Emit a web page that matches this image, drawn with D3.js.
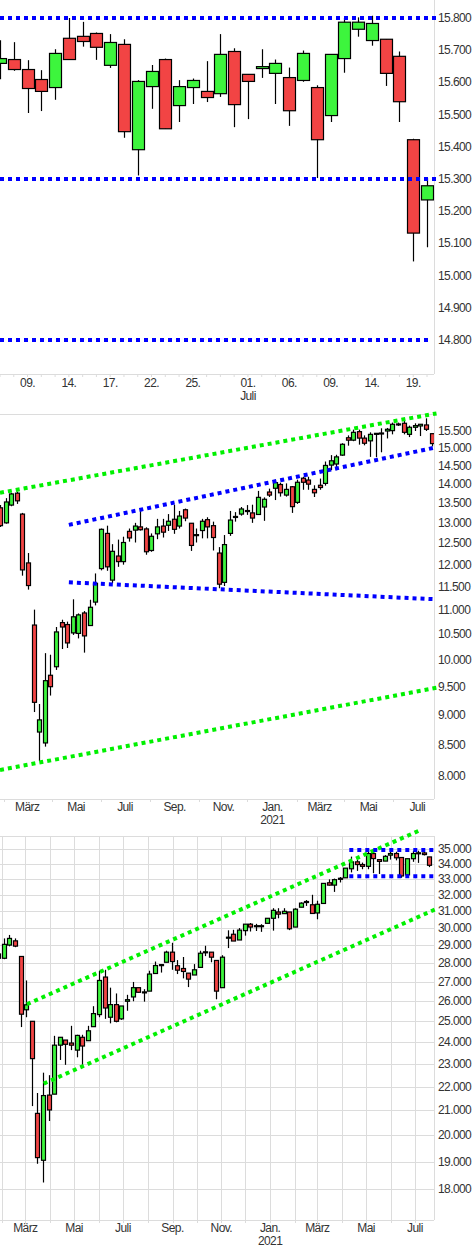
<!DOCTYPE html>
<html>
<head>
<meta charset="utf-8">
<script src="https://cdn.jsdelivr.net/npm/d3@7"></script>
<style>
  body { margin: 0; background: #fff; }
  text { font-family: "Liberation Sans", Arial, sans-serif; font-size: 12px; letter-spacing: -0.6px; fill: #333; }
</style>
</head>
<body>
<svg id="chart" width="475" height="1250"></svg>
<script>
/*
  Three candle panels: daily (last weeks), weekly DAX, weekly Dow.
  values are [open, high, low, close]
*/

// panel 1 - daily
var days1 = ["2021-06-07","2021-06-08","2021-06-09","2021-06-10","2021-06-11","2021-06-14","2021-06-15","2021-06-16",
  "2021-06-17","2021-06-18","2021-06-21","2021-06-22","2021-06-23","2021-06-24","2021-06-25","2021-06-28","2021-06-29",
  "2021-06-30","2021-07-01","2021-07-02","2021-07-05","2021-07-06","2021-07-07","2021-07-08","2021-07-09","2021-07-12",
  "2021-07-13","2021-07-14","2021-07-15","2021-07-16","2021-07-19","2021-07-20"];
var ohlc1 = [
  [15659,15731,15610,15674],[15671,15725,15636,15640],[15640,15669,15505,15581],[15609,15638,15511,15572],
  [15584,15703,15546,15690],[15737,15800,15671,15671],[15743,15788,15711,15727],[15752,15755,15670,15709],
  [15653,15750,15645,15724],[15718,15734,15428,15447],[15391,15607,15311,15603],[15587,15654,15518,15634],
  [15671,15674,15456,15456],[15528,15607,15477,15587],[15584,15612,15533,15606],[15572,15666,15539,15553],
  [15565,15750,15555,15687],[15696,15706,15461,15531],[15625,15625,15486,15603],[15643,15703,15614,15649],
  [15628,15671,15533,15659],[15615,15646,15465,15512],[15606,15699,15602,15690],[15584,15591,15303,15422],
  [15497,15687,15477,15687],[15674,15800,15630,15787],[15765,15802,15742,15787],[15730,15807,15714,15783],
  [15734,15734,15589,15628],[15681,15696,15477,15540],[15422,15425,15044,15132],[15235,15303,15088,15279]
];
var ticks1 = [14800,14900,15000,15100,15200,15300,15400,15500,15600,15700,15800];
var dayLabels1 = ["2021-06-09","2021-06-14","2021-06-17","2021-06-22","2021-06-25","2021-07-01","2021-07-06","2021-07-09","2021-07-14","2021-07-19"];
var levels1 = [15800, 15300, 14800];

// panel 2 - weekly (first week monday / last week monday)
var weeks2 = ["2020-01-27", "2021-07-19"];
var ohlc2 = [
  [13380,13450,12900,12930],[13000,13630,12980,13530],[13450,13770,13420,13740],[13760,13800,13480,13560],
  [13220,13250,11750,11880],[12040,12270,11440,11530],[10690,11010,9050,9220],[8710,9190,8240,8915],
  [8530,10130,8470,9610],[9710,10100,9340,9500],[9870,10650,9810,10550],[10740,10800,10210,10650],
  [10700,10760,10230,10330],[10530,11230,10490,10860],[10520,10930,10420,10900],[10940,10980,10140,10470],
  [10680,11220,10680,11060],[11170,11800,11100,11580],[11910,12860,11870,12840],[12740,12930,11860,11950],
  [11650,12480,11580,12310],[12200,12590,11950,12070],[12070,12660,12000,12520],[12790,12860,12540,12630],
  [12820,13000,12520,12920],[12900,13320,12810,12830],[12850,12890,12230,12300],[12330,12740,12300,12670],
  [12730,13100,12600,12900],[12920,13100,12640,12770],[12940,13220,12800,13040],[13090,13460,12730,12840],
  [12920,13300,12860,13170],[13330,13360,13040,13120],[12990,12990,12320,12450],[12690,12860,12520,12710],
  [12810,13100,12620,13040],[13080,13140,12620,12900],[12930,13030,12330,12640],[12270,12410,11470,11560],
  [11600,12700,11520,12470],[12740,13300,12680,13070],[13140,13270,13030,13160],[13220,13400,13180,13350],
  [13290,13450,13200,13310],[13250,13460,13000,13120],[13210,13820,13210,13650],[13400,13650,13050,13600],
  [13790,13880,13660,13710],[13890,14120,13580,14040],[13990,14040,13670,13770],[13710,14020,13670,13860],
  [13930,13950,13250,13410],[13520,14120,13480,14050],[14160,14200,13850,14050],[14110,14200,13850,14000],
  [13860,13970,13660,13770],[13970,14150,13850,13910],[14020,14620,13960,14510],[14520,14800,14380,14640],
  [14550,14810,14380,14750],[14800,15140,14780,15110],[15300,15370,15070,15230],[15230,15540,15200,15460],
  [15480,15540,15100,15290],[15290,15370,15080,15140],[15210,15460,14750,15400],[15400,15440,14740,15430],
  [15420,15580,14880,15440],[15500,15590,15280,15550],[15510,15750,15400,15700],[15690,15750,15650,15710],
  [15730,15800,15400,15460],[15400,15660,15320,15610],[15610,15730,15500,15660],[15650,15700,15350,15700],
  [15680,15880,15500,15550],[15420,15420,15050,15130]
];
var ticks2 = [8000,8500,9000,9500,10000,10500,11000,11500,12000,12500,13000,13500,14000,14500,15000,15500];
// trend lines: [date, value] pairs
var greenLines2 = [
  [["2020-01-27",13770],["2021-07-25",16030]],
  [["2020-01-27",8100],["2021-07-25",9480]]
];
var blueLines2 = [
  [["2020-04-22",12950],["2021-07-25",15024]],
  [["2020-04-22",11600],["2021-07-25",11230]]
];

// panel 3 - weekly
var weeks3 = ["2020-01-27", "2021-07-19"];
var ohlc3 = [
  [28280,28600,28200,28520],[28280,29400,28230,29060],[29020,29600,28950,29400],[29260,29400,28900,28960],
  [28380,28380,24720,25350],[25570,27080,25200,25820],[25000,25000,21180,23240],[20880,21730,18920,19150],
  [19050,22610,18240,21620],[21640,22500,20570,21020],[21680,24300,21680,23860],[23860,24230,23180,24230],
  [24100,24100,22960,23900],[23960,24780,23630,23860],[23630,24350,23300,24320],[24230,24350,22820,23820],
  [24070,24780,24070,24540],[24740,25750,24740,25380],[25330,27600,25200,27080],[27260,27650,25120,25660],
  [25200,26700,24900,25830],[25830,26400,24950,25000],[25120,25760,25070,25760],[26000,26330,25520,26080],
  [26220,27000,26000,26700],[26700,26700,26440,26460],[26440,26620,25980,26480],[26520,27600,26520,27420],
  [27450,28100,27450,27880],[27900,27950,27500,27930],[28060,28700,28060,28620],[28620,29150,27650,28100],
  [27870,28180,27420,27630],[27720,28350,27190,27560],[27470,27470,26730,27150],[27370,27960,27370,27650],
  [27780,28700,27780,28560],[28600,28980,28400,28640],[28620,28620,28060,28340],[28160,28160,26100,26520],
  [26700,28450,26700,28340],[29440,29870,28850,29470],[29640,29900,29250,29250],[29310,30000,29310,29880],
  [29850,30230,29560,30230],[30230,30300,29800,30060],[30120,30250,29830,30140],[30130,30230,29780,30140],
  [30280,30580,30280,30580],[30580,31190,29850,31060],[30960,31190,30580,30830],[30860,31190,30860,31000],
  [30960,30960,29880,29960],[30060,31190,30060,31130],[31250,31550,31250,31500],[31580,31690,31330,31600],
  [31400,32020,30840,30870],[30900,31650,30520,31430],[31480,32740,31480,32740],[32780,33000,32600,32630],
  [32630,33050,32200,32980],[33000,33150,32800,33070],[33100,33730,33100,33730],[33690,34500,33450,34150],
  [34150,34280,33550,33970],[33970,34100,33660,33850],[33850,34980,33660,34710],[34710,34900,33400,34370],
  [34300,34300,33350,34180],[34200,34600,34200,34520],[34600,34830,34300,34710],[34710,34830,34250,34420],
  [34440,34440,33100,33220],[33290,34360,33100,34360],[34360,34900,34150,34710],[34730,34900,34080,34760],
  [34750,34830,34580,34640],[34480,34480,33800,33920]
];
var ticks3 = [18000,19000,20000,21000,22000,23000,24000,25000,26000,27000,28000,29000,30000,31000,32000,33000,34000,35000];
var greenLines3 = [
  [["2020-03-03",25850],["2021-07-07",36320]],
  [["2020-03-24",22130],["2021-07-27",31130]]
];
var blueLines3 = [
  [["2021-04-10",34950],["2021-07-27",34950]],
  [["2021-04-10",33200],["2021-07-27",33200]]
];

var monthNames = ["Jan.","Feb.","März","Apr.","Mai","Juni","Juli","Aug.","Sep.","Okt.","Nov.","Dez."];

var de = d3.formatLocale({decimal: ",", thousands: ".", grouping: [3], currency: ["", "€"]});
var fmtK = de.format(",");
var parse = d3.timeParse("%Y-%m-%d");

var svg = d3.select("#chart");
var RIGHT = 434;
var UP = "#3df53d", DOWN = "#f24444", GRID = "#dcdcdc";

function dotted(g, pts, color) {
  g.append("path")
    .attr("d", d3.line()(pts))
    .attr("fill", "none")
    .attr("stroke", color)
    .attr("stroke-width", 4)
    .attr("stroke-dasharray", "4,4");
}

function candles(g, data, xf, y, bw) {
  var c = g.selectAll("g.c").data(data).enter().append("g");
  c.append("line")
    .attr("x1", function(d, i) { return Math.round(xf(i)) + 0.5; })
    .attr("x2", function(d, i) { return Math.round(xf(i)) + 0.5; })
    .attr("y1", function(d) { return y(d[1]); })
    .attr("y2", function(d) { return y(d[2]); })
    .attr("stroke", "#000").attr("stroke-width", 1.2);
  c.append("rect")
    .attr("x", function(d, i) { return Math.round(xf(i)) + 0.5 - bw / 2; })
    .attr("y", function(d) { return y(Math.max(d[0], d[3])); })
    .attr("width", bw)
    .attr("height", function(d) { return Math.max(1, Math.abs(y(d[0]) - y(d[3]))); })
    .attr("fill", function(d) { return d[3] >= d[0] ? UP : DOWN; })
    .attr("stroke", "#000").attr("stroke-width", 1.2);
}

function clip(id, top, bottom) {
  svg.append("clipPath").attr("id", id).append("rect")
    .attr("x", 0).attr("y", top).attr("width", RIGHT).attr("height", bottom - top);
}

// ---------- panel 1 ----------
(function() {
  var top = 0, bottom = 374;
  var x = d3.scaleLinear().domain([0, days1.length - 1]).range([0, 427]);
  var y = d3.scaleLinear().domain([14800, 15800]).range([340, 18]);
  var g = svg.append("g");
  clip("c1", top, bottom);

  g.append("line").attr("x1", RIGHT + 0.5).attr("x2", RIGHT + 0.5).attr("y1", top).attr("y2", bottom).attr("stroke", GRID);
  g.append("line").attr("x1", 0).attr("x2", RIGHT).attr("y1", bottom + 0.5).attr("y2", bottom + 0.5).attr("stroke", GRID);
  g.selectAll(".tk").data(days1).enter().append("line")
    .attr("x1", function(d, i) { return x(i); }).attr("x2", function(d, i) { return x(i); })
    .attr("y1", bottom).attr("y2", bottom + 3).attr("stroke", GRID);

  var cg = g.append("g").attr("clip-path", "url(#c1)");
  candles(cg, ohlc1, x, y, 12);

  levels1.forEach(function(v, i) {
    dotted(g, [[0, y(v)], [i < 2 ? 437 : 430, y(v)]], "#0000ff");
  });

  g.selectAll(".yl").data(ticks1).enter().append("text")
    .attr("x", 438).attr("y", function(d) { return y(d) + 4; }).text(fmtK);

  g.selectAll(".xl").data(dayLabels1).enter().append("text")
    .attr("x", function(d) { return x(days1.indexOf(d)); })
    .attr("y", 387).attr("text-anchor", "middle")
    .text(function(d) { return d3.timeFormat("%d.")(parse(d)); });
  g.append("text").attr("x", x(days1.indexOf("2021-07-01"))).attr("y", 400)
    .attr("text-anchor", "middle").text("Juli");
})();

// weekly panel helper
function weeklyPanel(opt) {
  var top = opt.top, bottom = opt.bottom;
  var d0 = parse(opt.weeks[0]), d1 = parse(opt.weeks[1]);
  var weeks = d3.timeMonday.range(d0, d3.timeDay.offset(d1, 1));
  var t = d3.scaleTime().domain([d0, d1]).range(opt.xr);
  var y = d3.scaleLog().domain(opt.domain).range([bottom, top]);
  var g = svg.append("g");
  clip(opt.id, top, bottom);

  var months = d3.timeMonth.range(d3.timeMonth.ceil(d3.timeDay.offset(d0, -20)), d3.timeDay.offset(d1, 10))
    .filter(function(m) { return t(m) > 0 && t(m) < RIGHT; });

  if (opt.grid) {
    g.selectAll(".hg").data(opt.ticks).enter().append("line")
      .attr("x1", 0).attr("x2", RIGHT)
      .attr("y1", function(d) { return Math.round(y(d)) + 0.5; })
      .attr("y2", function(d) { return Math.round(y(d)) + 0.5; })
      .attr("stroke", GRID);
    g.selectAll(".vg").data(months).enter().append("line")
      .attr("x1", function(d) { return Math.round(t(d)) + 0.5; })
      .attr("x2", function(d) { return Math.round(t(d)) + 0.5; })
      .attr("y1", top).attr("y2", bottom + 3).attr("stroke", GRID);
  } else {
    g.selectAll(".vt").data(months.filter(function(m) { return m.getMonth() % 2 == 1; })).enter().append("line")
      .attr("x1", function(d) { return Math.round(t(d)) + 0.5; })
      .attr("x2", function(d) { return Math.round(t(d)) + 0.5; })
      .attr("y1", bottom).attr("y2", bottom + 3).attr("stroke", GRID);
  }
  g.append("line").attr("x1", 0).attr("x2", RIGHT).attr("y1", top + 0.5).attr("y2", top + 0.5).attr("stroke", GRID);
  g.append("line").attr("x1", 0).attr("x2", RIGHT).attr("y1", bottom + 0.5).attr("y2", bottom + 0.5).attr("stroke", GRID);
  g.append("line").attr("x1", RIGHT + 0.5).attr("x2", RIGHT + 0.5).attr("y1", top).attr("y2", bottom).attr("stroke", GRID);

  var cg = g.append("g").attr("clip-path", "url(#" + opt.id + ")");
  candles(cg, opt.data, function(i) { return t(weeks[i]); }, y, 4);

  var pt = function(p) { return [t(parse(p[0])), y(p[1])]; };
  opt.green.forEach(function(l) { dotted(g, l.map(pt), "#00f000"); });
  opt.blue.forEach(function(l) { dotted(g, l.map(pt), "#0000ff"); });

  g.selectAll(".yl").data(opt.ticks).enter().append("text")
    .attr("x", 438).attr("y", function(d) { return y(d) + 4; }).text(fmtK);

  var labelled = months.filter(function(m) { return m.getMonth() % 2 == 0; });
  g.selectAll(".xl").data(labelled).enter().append("text")
    .attr("x", function(d) { return t(d); }).attr("y", bottom + 12)
    .attr("text-anchor", "middle")
    .text(function(d) { return monthNames[d.getMonth()]; });
  g.selectAll(".yr").data(labelled.filter(function(m) { return m.getMonth() == 0; })).enter().append("text")
    .attr("x", function(d) { return t(d); }).attr("y", bottom + 25)
    .attr("text-anchor", "middle")
    .text(function(d) { return d.getFullYear(); });
}

weeklyPanel({ id: "c2", top: 414, bottom: 799, weeks: weeks2, data: ohlc2, xr: [0, 431.7],
  domain: [7662, 16012], ticks: ticks2, green: greenLines2, blue: blueLines2, grid: false });

weeklyPanel({ id: "c3", top: 836, bottom: 1220, weeks: weeks3, data: ohlc3, xr: [-1.9, 429.3],
  domain: [16950, 35920], ticks: ticks3, green: greenLines3, blue: blueLines3, grid: true });
</script>
</body>
</html>
